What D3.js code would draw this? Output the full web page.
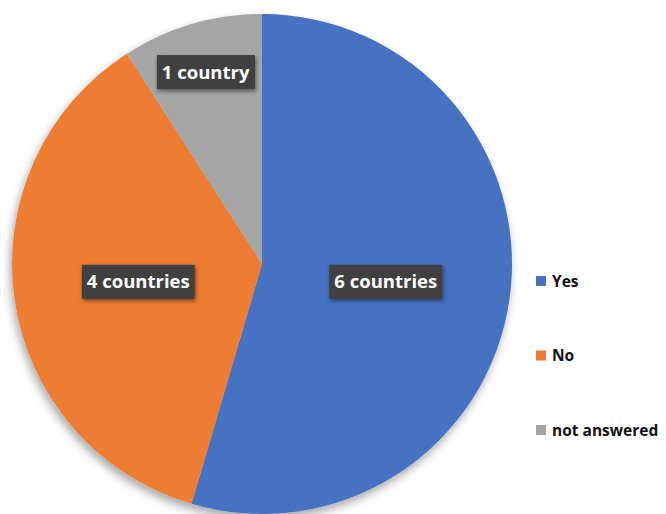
<!DOCTYPE html>
<html><head><meta charset="utf-8">
<script src="https://cdn.jsdelivr.net/npm/d3@7"></script>
<style>body{margin:0;background:#fff;}svg{display:block;}</style>
</head><body>
<svg id="chart" width="666" height="514"></svg>
<script>
const categories = ["Yes", "No", "not answered"];
const values = [6, 4, 1];
const labels = ["6 countries", "4 countries", "1 country"];
const colors = ["#4672C1", "#ED7D31", "#A5A5A5"];

const svg = d3.select("#chart");
const defs = svg.append("defs");
const f = defs.append("filter").attr("id","shadow").attr("x","-20%").attr("y","-20%").attr("width","140%").attr("height","140%");
f.append("feGaussianBlur").attr("in","SourceAlpha").attr("stdDeviation",5);
f.append("feOffset").attr("dx",-2).attr("dy",5).attr("result","ob");
f.append("feComponentTransfer").append("feFuncA").attr("type","linear").attr("slope",0.35);
const fm = f.append("feMerge"); fm.append("feMergeNode"); fm.append("feMergeNode").attr("in","SourceGraphic");

const lf = defs.append("filter").attr("id","lshadow").attr("x","-20%").attr("y","-30%").attr("width","140%").attr("height","160%");
lf.append("feGaussianBlur").attr("in","SourceAlpha").attr("stdDeviation",2);
lf.append("feOffset").attr("dx",1).attr("dy",2).attr("result","ob");
lf.append("feComponentTransfer").append("feFuncA").attr("type","linear").attr("slope",0.5);
const lm = lf.append("feMerge"); lm.append("feMergeNode"); lm.append("feMergeNode").attr("in","SourceGraphic");

const cx = 262, cy = 264, r = 250;
const pie = d3.pie().sort(null).value(d => d)(values);
const arc = d3.arc().innerRadius(0).outerRadius(r);
const g = svg.append("g").attr("transform", `translate(${cx},${cy})`);
g.append("g").attr("filter","url(#shadow)").selectAll("path").data(pie).join("path")
  .attr("d", arc).attr("fill", (d,i) => colors[i]);

const total = d3.sum(values);
const labelG = g.append("g");
pie.forEach((d,i) => {
  const frac = values[i]/total;
  const lr = frac < 0.15 ? r*0.8 : r*0.5;
  const la = d3.arc().innerRadius(lr).outerRadius(lr);
  const [x,y] = la.centroid(d);
  const lg = labelG.append("g").attr("transform",`translate(${x},${y})`);
  const t = lg.append("text").attr("text-anchor","middle").attr("dy","0.36em")
    .attr("font-family","Open Sans, sans-serif").attr("font-weight","bold").attr("font-size",18.5)
    .attr("fill","#fff").text(labels[i]);
  const bb = t.node().getBBox();
  lg.insert("rect","text").attr("x",bb.x-5).attr("y",-17).attr("width",bb.width+10).attr("height",34)
    .attr("fill","#3f3f3f").attr("filter","url(#lshadow)");
});

const legend = svg.append("g");
const ly = d3.scalePoint().domain(categories).range([281, 430]);
categories.forEach((c,i) => {
  const y = ly(c);
  legend.append("rect").attr("x",536).attr("y",y-5).attr("width",10).attr("height",10).attr("fill",colors[i]);
  legend.append("text").attr("x",552).attr("y",y).attr("dy","0.36em")
    .attr("font-family","Open Sans, sans-serif").attr("font-weight","bold").attr("font-size",15.5)
    .attr("fill","#111").text(c);
});
</script>
</body></html>
